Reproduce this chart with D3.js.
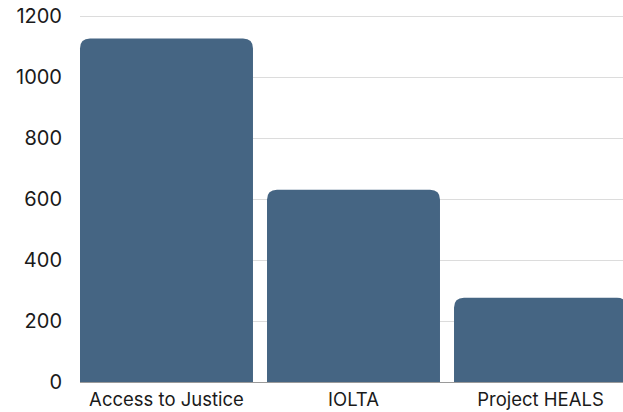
<!DOCTYPE html>
<html>
<head>
<meta charset="utf-8">
<script src="https://cdn.jsdelivr.net/npm/d3@7"></script>
<style>
  body { margin: 0; background: #fff; }
  text { font-family: Inter, "Noto Sans", sans-serif; fill: #1a1a1a; }
</style>
</head>
<body>
<div class="container"></div>
<script>
const categories = ["Access to Justice", "IOLTA", "Project HEALS"];
const values = [1126, 630, 276];
const yTicks = [0, 200, 400, 600, 800, 1000, 1200];

const width = 623;
const height = 412;
const margin = { top: 16, right: -4, bottom: 30, left: 80 };
const innerWidth = width - margin.left - margin.right;
const innerHeight = height - margin.top - margin.bottom;

const data = categories.map((c, i) => ({ name: c, value: values[i] }));

const svg = d3
  .select(".container")
  .append("svg")
  .attr("width", width)
  .attr("height", height);

const g = svg
  .append("g")
  .attr("transform", `translate(${margin.left},${margin.top})`);

const xScale = d3
  .scaleBand()
  .domain(categories)
  .range([0, innerWidth])
  .paddingInner(0.075)
  .paddingOuter(0);

const yScale = d3.scaleLinear().domain([0, 1200]).range([innerHeight, 0]);

// gridlines
g.append("g")
  .selectAll("line")
  .data(yTicks)
  .enter()
  .append("line")
  .attr("x1", 0)
  .attr("x2", innerWidth)
  .attr("y1", (d) => yScale(d) + 0.5)
  .attr("y2", (d) => yScale(d) + 0.5)
  .attr("stroke", (d) => (d === 0 ? "#9a9a9a" : "#dcdcdc"))
  .attr("stroke-width", 1);

// y labels
const yAxis = d3
  .axisLeft(yScale)
  .tickValues(yTicks)
  .tickFormat(d3.format("d"))
  .tickSize(0)
  .tickPadding(18);
g.append("g")
  .call(yAxis)
  .call((s) => s.select(".domain").remove())
  .selectAll("text")
  .style("font-size", "20px")
  .attr("fill", "#1a1a1a");

// rounded-top bars
const r = 10;
const barPath = (d) => {
  const x0 = xScale(d.name);
  const x1 = x0 + xScale.bandwidth();
  const y0 = yScale(d.value);
  const yb = yScale(0);
  return `M${x0},${yb}V${y0 + r}Q${x0},${y0} ${x0 + r},${y0}H${x1 - r}Q${x1},${y0} ${x1},${y0 + r}V${yb}Z`;
};

g.selectAll("path.bar")
  .data(data)
  .enter()
  .append("path")
  .attr("class", "bar")
  .attr("d", barPath)
  .attr("fill", "#456583");

// x labels
const xAxis = d3.axisBottom(xScale).tickSize(0).tickPadding(11);
g.append("g")
  .attr("transform", `translate(0,${innerHeight})`)
  .call(xAxis)
  .call((s) => s.select(".domain").remove())
  .selectAll("text")
  .style("font-size", "18.5px")
  .attr("fill", "#1a1a1a");
</script>
</body>
</html>
